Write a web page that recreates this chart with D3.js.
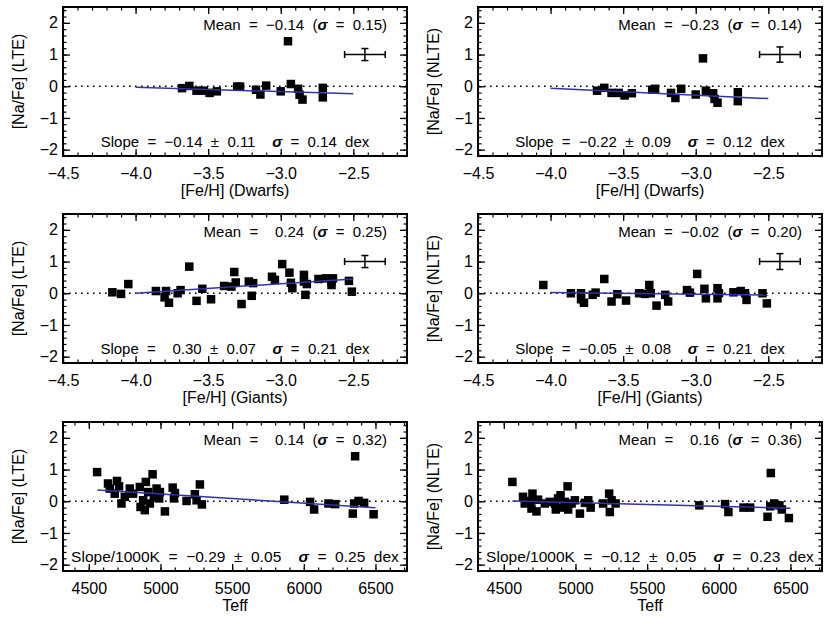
<!DOCTYPE html>
<html>
<head>
<meta charset="utf-8">
<script src="https://cdn.jsdelivr.net/npm/d3@7"></script>
<style>
  body { margin: 0; background: #fff; }
  svg text { font-family: "Liberation Sans", Arial, sans-serif; fill: #000; }
</style>
</head>
<body>
<div id="chart"></div>
<script>
// Dwarfs: [Fe/H] and [Na/Fe] (same stars in LTE and NLTE)
const dwarfFeH = [-3.68, -3.63, -3.58, -3.53, -3.49, -3.44, -3.30, -3.28, -3.17, -3.14, -3.10, -3.00, -2.95, -2.93, -2.88, -2.87, -2.85, -2.71, -2.71];
const dwarfNaLte = [-0.06, 0.01, -0.14, -0.14, -0.21, -0.16, -0.01, -0.01, -0.11, -0.26, 0.02, -0.16, 1.42, 0.07, -0.08, -0.27, -0.42, -0.05, -0.35];
const dwarfNaNlte = [-0.14, -0.05, -0.21, -0.21, -0.29, -0.22, -0.11, -0.08, -0.21, -0.37, -0.08, -0.26, 0.88, -0.14, -0.22, -0.40, -0.52, -0.19, -0.47];

// Giants
const giantFeHLte = [-4.16, -4.10, -4.05, -3.86, -3.79, -3.80, -3.77, -3.71, -3.69, -3.63, -3.58, -3.54, -3.48, -3.39, -3.34, -3.32, -3.31, -3.27, -3.22, -3.19, -3.20, -3.06, -3.04, -2.99, -2.94, -2.93, -2.92, -2.84, -2.84, -2.82, -2.83, -2.74, -2.69, -2.65, -2.64, -2.65, -2.53, -2.51];
const giantNaLte = [0.03, -0.02, 0.29, 0.07, 0.07, -0.13, -0.30, 0.00, 0.10, 0.84, -0.24, 0.14, -0.19, 0.23, 0.21, 0.67, 0.34, -0.34, 0.37, 0.32, -0.08, 0.52, 0.42, 0.92, 0.65, 0.33, 0.16, 0.58, 0.37, 0.29, -0.05, 0.45, 0.47, 0.37, 0.47, 0.26, 0.39, 0.05];
const giantFeHNlte = [-4.05, -3.86, -3.79, -3.79, -3.77, -3.71, -3.69, -3.63, -3.58, -3.54, -3.48, -3.39, -3.35, -3.32, -3.31, -3.27, -3.21, -3.19, -3.06, -3.04, -2.99, -2.94, -2.93, -2.85, -2.84, -2.85, -2.74, -2.69, -2.66, -2.65, -2.54, -2.51];
const giantNaNlte = [0.26, 0.00, 0.00, -0.19, -0.30, -0.05, 0.02, 0.45, -0.26, -0.03, -0.23, 0.00, -0.02, 0.26, 0.00, -0.39, -0.05, -0.26, 0.10, 0.02, 0.61, 0.14, -0.16, 0.16, 0.00, -0.16, 0.03, 0.07, 0.00, -0.21, 0.00, -0.32];

// All stars against Teff
const teffLte = [4558, 4634, 4646, 4681, 4697, 4711, 4728, 4751, 4786, 4809, 4856, 4861, 4879, 4891, 4898, 4914, 4926, 4945, 4954, 4973, 4991, 4996, 5031, 5085, 5094, 5101, 5182, 5240, 5252, 5275, 5289, 5864, 6044, 6072, 6172, 6219, 6342, 6351, 6358, 6382, 6421, 6487];
const naTeffLte = [0.92, 0.56, 0.40, 0.24, 0.64, 0.47, -0.07, 0.14, 0.40, 0.24, 0.45, -0.18, 0.03, -0.28, 0.61, 0.29, -0.07, 0.85, 0.14, 0.40, 0.09, 0.29, -0.32, 0.43, 0.09, 0.26, 0.01, 0.22, 0.03, 0.53, -0.10, 0.05, -0.02, -0.26, -0.07, -0.09, -0.39, -0.07, 1.42, 0.01, -0.05, -0.41];
const teffNlte = [4560, 4634, 4646, 4681, 4700, 4693, 4728, 4739, 4786, 4821, 4856, 4863, 4879, 4896, 4903, 4926, 4945, 4949, 4973, 4996, 5031, 5066, 5089, 5106, 5193, 5235, 5240, 5252, 5280, 5864, 6044, 6067, 6172, 6219, 6340, 6359, 6363, 6386, 6423, 6440, 6489];
const naTeffNlte = [0.61, 0.14, -0.07, 0.01, 0.24, -0.23, -0.32, 0.05, -0.07, -0.02, -0.07, -0.26, 0.09, 0.19, -0.20, -0.02, 0.47, -0.26, -0.07, 0.03, -0.39, -0.05, 0.03, -0.20, -0.07, 0.24, -0.34, 0.03, -0.07, -0.13, -0.09, -0.34, -0.20, -0.20, -0.49, -0.16, 0.89, -0.07, -0.13, -0.26, -0.53];

// Statistics printed in each panel (panel order: row by row, left then right)
const meanValues = [-0.14, -0.23, 0.24, -0.02, 0.14, 0.16];
const meanSigmas = [0.15, 0.14, 0.25, 0.20, 0.32, 0.36];
const slopeValues = [-0.14, -0.22, 0.30, -0.05, -0.29, -0.12];
const slopeErrors = [0.11, 0.09, 0.07, 0.08, 0.05, 0.05];
const scatterValues = [0.14, 0.12, 0.21, 0.21, 0.25, 0.23];
const fitIntercepts = [-0.59, -0.94, 1.20, -0.18, 1.68, 0.558];

// Typical error bar (only in the [Fe/H] panels)
const errCenter = [-2.42, 1.0];
const errFeH = 0.14;
const errNa = [0.19, 0.24, 0.19, 0.25];

// Axis ticks
const fehTicks = [-4.5, -4.0, -3.5, -3.0, -2.5];
const teffTicks = [4500, 5000, 5500, 6000, 6500];
const naTicks = [-2, -1, 0, 1, 2];
const fehMinor = d3.range(-45, -21).map(v => v / 10);
const teffMinor = d3.range(44, 68).map(v => v * 100);
const naMinor = d3.range(-11, 13).map(v => v / 5);

const fehDomain = [-4.5, -2.13];
const teffDomain = [4320, 6720];
const naDomain = [-2.2, 2.5];
const fehFitRange = [-4.0, -2.5];
const teffFitRange = [4560, 6500];

// Layout
const W = 830, H = 623;
const colLeft = [63, 478];
const rowTop = [7, 214, 422];
const plotW = 344, plotH = 149;

const panels = [
    { row: 0, col: 0, xs: dwarfFeH, ys: dwarfNaLte, teff: false, xTitle: '[Fe/H] (Dwarfs)', yTitle: '[Na/Fe] (LTE)' },
    { row: 0, col: 1, xs: dwarfFeH, ys: dwarfNaNlte, teff: false, xTitle: '[Fe/H] (Dwarfs)', yTitle: '[Na/Fe] (NLTE)' },
    { row: 1, col: 0, xs: giantFeHLte, ys: giantNaLte, teff: false, xTitle: '[Fe/H] (Giants)', yTitle: '[Na/Fe] (LTE)' },
    { row: 1, col: 1, xs: giantFeHNlte, ys: giantNaNlte, teff: false, xTitle: '[Fe/H] (Giants)', yTitle: '[Na/Fe] (NLTE)' },
    { row: 2, col: 0, xs: teffLte, ys: naTeffLte, teff: true, xTitle: 'Teff', yTitle: '[Na/Fe] (LTE)' },
    { row: 2, col: 1, xs: teffNlte, ys: naTeffNlte, teff: true, xTitle: 'Teff', yTitle: '[Na/Fe] (NLTE)' }
];

const signed = v => (v < 0 ? '\u2212' : '  ') + Math.abs(v).toFixed(2);

const svg = d3.select('#chart')
    .append('svg')
    .attr('width', W)
    .attr('height', H)
    .style('background', '#fff');

function styleAxis(sel, width) {
    sel.select('.domain').remove();
    sel.selectAll('line').attr('stroke', '#000').attr('stroke-width', width);
    sel.attr('font-size', 16);
}

panels.forEach((p, i) => {
    const x0 = colLeft[p.col];
    const y0 = rowTop[p.row];
    const g = svg.append('g').attr('transform', `translate(${x0},${y0})`);

    const xScale = d3.scaleLinear()
        .domain(p.teff ? teffDomain : fehDomain)
        .range([0, plotW]);
    const yScale = d3.scaleLinear()
        .domain(naDomain)
        .range([plotH, 0]);

    const xMajor = p.teff ? teffTicks : fehTicks;
    const xMinor = p.teff ? teffMinor : fehMinor;
    const xFmt = p.teff ? d3.format('d') : d3.format('.1f');

    // Axes, ticks pointing inward on all four sides
    g.append('g')
        .attr('transform', `translate(0,${plotH})`)
        .call(d3.axisBottom(xScale).tickValues(xMajor).tickFormat(xFmt).tickSize(-7).tickPadding(12))
        .call(s => styleAxis(s, 1.3));
    g.append('g')
        .attr('transform', `translate(0,${plotH})`)
        .call(d3.axisBottom(xScale).tickValues(xMinor).tickFormat('').tickSize(-3.5))
        .call(s => styleAxis(s, 1.2));
    g.append('g')
        .call(d3.axisTop(xScale).tickValues(xMajor).tickFormat('').tickSize(-7))
        .call(s => styleAxis(s, 1.3));
    g.append('g')
        .call(d3.axisTop(xScale).tickValues(xMinor).tickFormat('').tickSize(-3.5))
        .call(s => styleAxis(s, 1.2));

    g.append('g')
        .call(d3.axisLeft(yScale).tickValues(naTicks).tickFormat(d3.format('d')).tickSize(-7).tickPadding(5))
        .call(s => styleAxis(s, 1.3));
    g.append('g')
        .call(d3.axisLeft(yScale).tickValues(naMinor).tickFormat('').tickSize(-3.5))
        .call(s => styleAxis(s, 1.2));
    g.append('g')
        .attr('transform', `translate(${plotW},0)`)
        .call(d3.axisRight(yScale).tickValues(naTicks).tickFormat('').tickSize(-7))
        .call(s => styleAxis(s, 1.3));
    g.append('g')
        .attr('transform', `translate(${plotW},0)`)
        .call(d3.axisRight(yScale).tickValues(naMinor).tickFormat('').tickSize(-3.5))
        .call(s => styleAxis(s, 1.2));

    // Frame
    g.append('rect')
        .attr('width', plotW)
        .attr('height', plotH)
        .attr('fill', 'none')
        .attr('stroke', '#000')
        .attr('stroke-width', 2);

    // Zero line (dotted)
    g.append('line')
        .attr('x1', 0)
        .attr('x2', plotW)
        .attr('y1', yScale(0))
        .attr('y2', yScale(0))
        .attr('stroke', '#000')
        .attr('stroke-width', 1.6)
        .attr('stroke-dasharray', '1.6 4.4');

    // Data squares
    const pts = p.xs.map((x, k) => [x, p.ys[k]]);
    const sq = 8.5;
    g.selectAll('rect.pt')
        .data(pts)
        .enter()
        .append('rect')
        .attr('class', 'pt')
        .attr('x', d => xScale(d[0]) - sq / 2)
        .attr('y', d => yScale(d[1]) - sq / 2)
        .attr('width', sq)
        .attr('height', sq)
        .attr('fill', '#000');

    // Linear fit
    const slope = p.teff ? slopeValues[i] / 1000 : slopeValues[i];
    const fitRange = p.teff ? teffFitRange : fehFitRange;
    const fit = fitRange.map(x => [x, fitIntercepts[i] + slope * x]);
    g.append('path')
        .datum(fit)
        .attr('d', d3.line().x(d => xScale(d[0])).y(d => yScale(d[1])))
        .attr('fill', 'none')
        .attr('stroke', '#3434a4')
        .attr('stroke-width', 1.5);

    // Representative error bar
    if (!p.teff) {
        const ex = xScale(errCenter[0]);
        const ey = yScale(errCenter[1]);
        const xl = xScale(errCenter[0] - errFeH), xr = xScale(errCenter[0] + errFeH);
        const yt = yScale(errCenter[1] + errNa[i]), yb = yScale(errCenter[1] - errNa[i]);
        const cap = 3.5;
        const segs = [
            [xl, ey, xr, ey], [ex, yt, ex, yb],
            [xl, ey - cap, xl, ey + cap], [xr, ey - cap, xr, ey + cap],
            [ex - cap, yt, ex + cap, yt], [ex - cap, yb, ex + cap, yb]
        ];
        g.selectAll('line.err')
            .data(segs)
            .enter()
            .append('line')
            .attr('class', 'err')
            .attr('x1', d => d[0]).attr('y1', d => d[1])
            .attr('x2', d => d[2]).attr('y2', d => d[3])
            .attr('stroke', '#000')
            .attr('stroke-width', 1.5);
    }

    // Mean annotation
    const mean = g.append('text')
        .attr('x', plotW - 20)
        .attr('y', 23)
        .attr('text-anchor', 'end')
        .attr('font-size', 15)
        .style('white-space', 'pre');
    mean.append('tspan').text(`Mean  =  ${signed(meanValues[i])}  (`);
    mean.append('tspan').attr('font-style', 'italic').attr('font-weight', 'bold').text('\u03c3');
    mean.append('tspan').text(`  =  ${meanSigmas[i].toFixed(2)})`);

    // Slope annotation
    const slopeTxt = g.append('text')
        .attr('x', plotW / 2)
        .attr('y', plotH - 9)
        .attr('text-anchor', 'middle')
        .attr('font-size', p.teff ? 15.5 : 15)
        .style('white-space', 'pre');
    slopeTxt.append('tspan')
        .text(`${p.teff ? 'Slope/1000K' : 'Slope'}  =  ${signed(slopeValues[i])}  \u00b1  ${slopeErrors[i].toFixed(2)}    `);
    slopeTxt.append('tspan').attr('font-style', 'italic').attr('font-weight', 'bold').text('\u03c3');
    slopeTxt.append('tspan').text(`  =  ${scatterValues[i].toFixed(2)}  dex`);

    // Axis titles
    g.append('text')
        .attr('x', plotW / 2)
        .attr('y', plotH + 40)
        .attr('text-anchor', 'middle')
        .attr('font-size', 16)
        .text(p.xTitle);

    svg.append('text')
        .attr('transform', `translate(${x0 - 44.5},${y0 + plotH / 2}) rotate(-90)`)
        .attr('text-anchor', 'middle')
        .attr('dy', '0.35em')
        .attr('font-size', 16)
        .text(p.yTitle);
});
</script>
</body>
</html>
